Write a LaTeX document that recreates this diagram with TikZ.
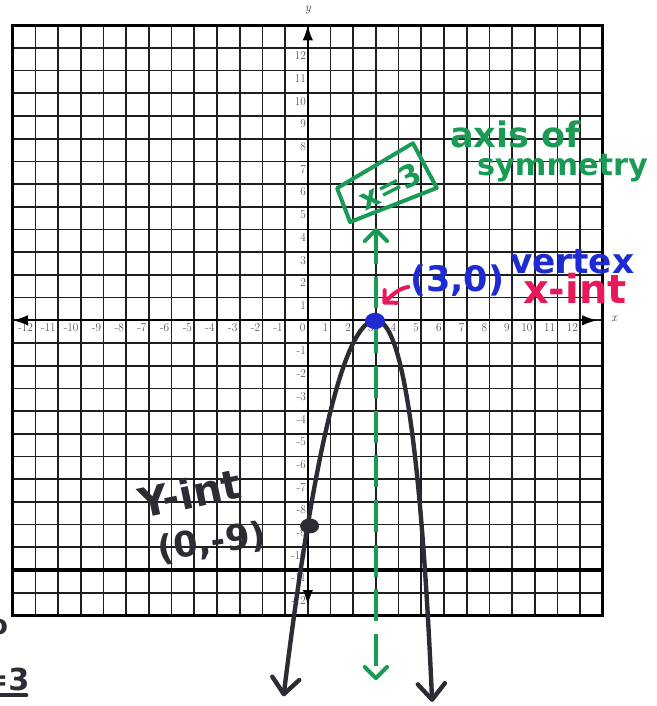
\documentclass[tikz,border=0pt]{standalone}
\usepackage{fontspec}
\newfontfamily\hand{DejaVu Sans}
\usetikzlibrary{arrows.meta}
\definecolor{mkgreen}{HTML}{1A9B55}
\definecolor{mkblue}{HTML}{1E2BD2}
\definecolor{mkred}{HTML}{E8195A}
\definecolor{mkblack}{HTML}{2C2C34}
\tikzset{
  bigbarb/.tip={Straight Barb[length=20pt,width=34pt,round]},
  grnbarb/.tip={Straight Barb[length=14pt,width=28pt,round]},
  redbarb/.tip={Straight Barb[length=11pt,width=22pt,round]},
  axtip/.tip={Latex[length=19pt,width=13pt]}
}
\begin{document}
\begin{tikzpicture}[x=1cm,y=1cm,
  gridline/.style={line width=2.1pt, black!88},
  ticklab/.style={font=\fontsize{15}{15}\selectfont, text=black!75, inner sep=0pt},
  axislab/.style={font=\fontsize{16}{16}\selectfont\itshape, text=black!75, inner sep=0pt},
  handtxt/.style={font=\hand\bfseries\fontsize{42}{42}\selectfont, inner sep=0pt},
  handline/.style={line cap=round, line join=round},
  axisline/.style={line width=2.1pt, axtip-axtip}
]
\useasboundingbox (-13.56,-16.99) rectangle (15.34,14.11);
% grid
\draw[gridline] (-13,-13) grid (13,13);
\draw[line width=3.8pt] (-13,-13) rectangle (13,13);
\draw[line width=4pt] (-13,-11) -- (13,-11);
% axes
\coordinate (xa) at (-13,0);
\coordinate (xb) at (12.75,0);
\coordinate (ya) at (0,-12.55);
\coordinate (yb) at (0,13);
\draw[axisline] (xa) -- (xb);
\draw[axisline] (ya) -- (yb);
\node[axislab] (xname) at (13.5,0.05) {x};
\node[axislab] (yname) at (0,13.65) {y};
% tick labels
\foreach \i in {-12,...,12}{
  \node[ticklab, anchor=east] (xt\i) at (\i-0.1,-0.33) {\i};
}
\foreach \j in {-12,...,-1,1,2,...,12}{
  \node[ticklab, anchor=east] (yt\j) at (-0.08,\j-0.35) {\j};
}
% green axis of symmetry
\coordinate (gtop) at (3.0,4.07);
\coordinate (gbot) at (3.0,-15.85);
\draw[mkgreen, line width=5pt, dash pattern=on 40pt off 16pt, grnbarb-grnbarb] (gtop) -- (gbot);
% parabola (hand drawn: left arm y=-(x-3)^2, right arm a little steeper)
\draw[mkblack, line width=5.5pt, handline, bigbarb-bigbarb]
  plot[variable=\t, domain=-4.07:4.1, samples=90, smooth]
  ({3 + \t*(\t<0 ? 1 : 0.85-0.06*\t)}, {-\t*\t});
% points
\fill[mkblue] (2.96,-0.03) ellipse [x radius=0.44, y radius=0.36];
\fill[mkblack] (0.08,-9.06) ellipse [x radius=0.42, y radius=0.33];
% green box x=3
\coordinate (b1) at (1.29,5.82);
\coordinate (b2) at (4.63,7.80);
\coordinate (b3) at (5.68,5.83);
\coordinate (b4) at (1.86,4.33);
\draw[mkgreen, line width=5pt, handline] (b1) -- (b2) -- (b3) -- (b4) -- cycle;
\node[handtxt, text=mkgreen, rotate=27, font=\hand\bfseries\fontsize{38}{38}\selectfont] (eq) at (3.62,5.9) {x=3};
\node[handtxt, text=mkgreen, anchor=base west, font=\hand\bfseries\fontsize{44}{44}\selectfont] (axA) at (6.26,7.63) {axis of};
\node[handtxt, text=mkgreen, anchor=base west, font=\hand\bfseries\fontsize{38}{38}\selectfont] (axB) at (7.45,6.36) {symmetry};
% vertex labels
\node[handtxt, text=mkblue, anchor=base west, font=\hand\bfseries\fontsize{44}{44}\selectfont] (vpt) at (4.5,1.25) {(3,0)};
\node[handtxt, text=mkblue, anchor=base west, font=\hand\bfseries\fontsize{43}{43}\selectfont] (vword) at (8.9,2.07) {vertex};
\node[handtxt, text=mkred, anchor=base west, font=\hand\bfseries\fontsize{50}{50}\selectfont] (xint) at (9.48,0.76) {x-int};
\coordinate (rs) at (4.42,1.47);
\coordinate (re) at (3.31,0.72);
\draw[mkred, line width=5pt, handline, -redbarb] (rs) .. controls (3.95,1.4) and (3.6,1.0) .. (re);
% y-intercept labels
\node[handtxt, text=mkblack, rotate=12, font=\hand\bfseries\fontsize{51}{51}\selectfont] (yint) at (-5.19,-7.6) {Y-int};
\node[handtxt, text=mkblack, rotate=8, font=\hand\bfseries\fontsize{44}{44}\selectfont] (ypt) at (-4.22,-9.8) {(0,-9)};
% cut-off fragments at the left edge
\node[handtxt, text=mkblack, font=\hand\bfseries\fontsize{34}{34}\selectfont] (frA) at (-13.62,-13.5) {o};
\node[handtxt, text=mkblack, font=\hand\bfseries\fontsize{38}{38}\selectfont, anchor=base east] (frB) at (-12.25,-16.3) {=3};
\draw[mkblack, line width=4.5pt, handline] ([yshift=-6pt]frB.base west) -- ([yshift=-6pt,xshift=-4pt]frB.base east);
\end{tikzpicture}
\end{document}
